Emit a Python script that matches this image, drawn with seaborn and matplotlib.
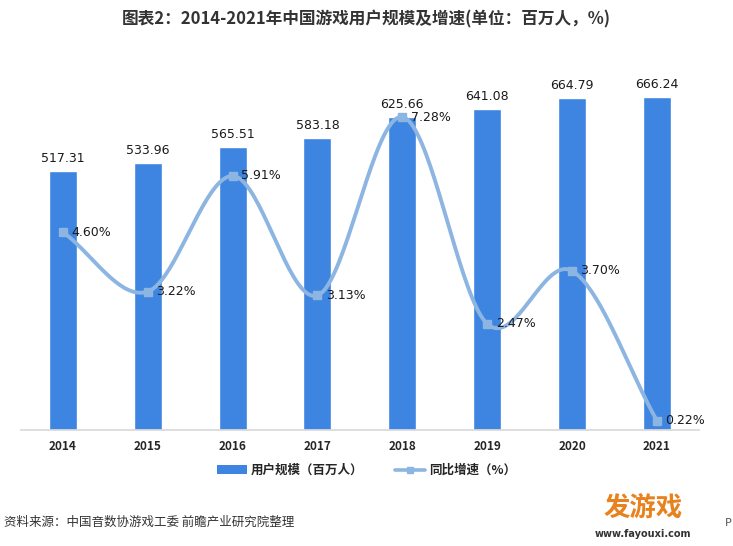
import numpy as np
import pandas as pd
import matplotlib
matplotlib.use("Agg")
import matplotlib.pyplot as plt
from matplotlib.patches import Patch
from matplotlib.lines import Line2D
import seaborn as sns

years = ["2014", "2015", "2016", "2017", "2018", "2019", "2020", "2021"]
users = [517.31, 533.96, 565.51, 583.18, 625.66, 641.08, 664.79, 666.24]
growth = [4.60, 3.22, 5.91, 3.13, 7.28, 2.47, 3.70, 0.22]

BAR_COLOR = "#3d85e0"
LINE_COLOR = "#8db5e2"

sns.set_theme(style="white")
plt.rcParams["font.family"] = ["Noto Sans CJK SC", "DejaVu Sans"]

df = pd.DataFrame({"year": years, "users": users, "growth": growth})

fig = plt.figure(figsize=(7.33, 5.46), dpi=100)
ax = fig.add_axes([0.028, 0.2125, 0.926, 0.696])

sns.barplot(data=df, x="year", y="users", color=BAR_COLOR, width=0.33,
            saturation=1, ax=ax)
ax.set_xlim(-0.5, 7.5)
ax.set_ylim(0, 760)
ax.set_xlabel("")
ax.set_ylabel("")
ax.set_yticks([])
for side in ["top", "left", "right"]:
    ax.spines[side].set_visible(False)
ax.spines["bottom"].set_color("#d9d9d9")
ax.tick_params(axis="x", length=0, pad=7)
for lbl in ax.get_xticklabels():
    lbl.set_fontsize(8.5)
    lbl.set_fontweight("bold")
    lbl.set_color("#262626")

for i, v in enumerate(users):
    ax.text(i, v + 12, f"{v:.2f}", ha="center", va="bottom", fontsize=9,
            color="#1a1a1a", family="DejaVu Sans")

# smoothed growth line on secondary axis (Catmull-Rom, like Excel smoothing)
ax2 = ax.twinx()
ax2.set_ylim(0, 8.84)
ax2.set_yticks([])
for side in ["top", "left", "right", "bottom"]:
    ax2.spines[side].set_visible(False)

xs = np.arange(len(growth), dtype=float)
ys = np.array(growth)
px = np.concatenate([[2 * xs[0] - xs[1]], xs, [2 * xs[-1] - xs[-2]]])
py = np.concatenate([[2 * ys[0] - ys[1]], ys, [2 * ys[-1] - ys[-2]]])
cx, cy = [], []
t = np.linspace(0, 1, 40)
for k in range(1, len(px) - 2):
    for arr, out in ((px, cx), (py, cy)):
        p0, p1, p2, p3 = arr[k - 1], arr[k], arr[k + 1], arr[k + 2]
        out.extend(0.5 * (2 * p1 + (-p0 + p2) * t
                          + (2 * p0 - 5 * p1 + 4 * p2 - p3) * t ** 2
                          + (-p0 + 3 * p1 - 3 * p2 + p3) * t ** 3))
ax2.plot(cx, cy, color=LINE_COLOR, lw=2.8, solid_capstyle="round")
ax2.plot(xs, ys, ls="none", marker="s", ms=6, color=LINE_COLOR)

for i, v in enumerate(growth):
    ax2.text(i + 0.1, v, f"{v:.2f}%", ha="left", va="center", fontsize=9,
             color="#1a1a1a", family="DejaVu Sans")

fig.text(0.5, 0.965, "图表2：2014-2021年中国游戏用户规模及增速(单位：百万人，%)",
         ha="center", va="center", fontsize=12, fontweight="bold",
         color="#333333")

handles = [Patch(facecolor=BAR_COLOR, edgecolor="none"),
           Line2D([0], [0], color=LINE_COLOR, lw=2.6, marker="s", ms=5)]
leg = fig.legend(handles, ["用户规模（百万人）", "同比增速（%）"], loc="center",
                 bbox_to_anchor=(0.5, 0.138), ncol=2, frameon=False,
                 fontsize=9, handlelength=2.4, columnspacing=2.5,
                 handletextpad=0.3)
for txt in leg.get_texts():
    txt.set_fontweight("bold")

fig.text(0.006, 0.043, "资料来源：中国音数协游戏工委 前瞻产业研究院整理",
         ha="left", va="center", fontsize=9, color="#333333")

fig.text(0.877, 0.07, "发游戏", ha="center", va="center", fontsize=19,
         fontweight="bold", color="#e8821e")
fig.text(0.877, 0.022, "www.fayouxi.com", ha="center", va="center",
         fontsize=7, fontweight="bold", color="#333333", family="DejaVu Sans")
fig.text(0.998, 0.043, "P", ha="right", va="center", fontsize=8,
         color="#555555", family="DejaVu Sans")

fig.savefig("out.png", dpi=100)
